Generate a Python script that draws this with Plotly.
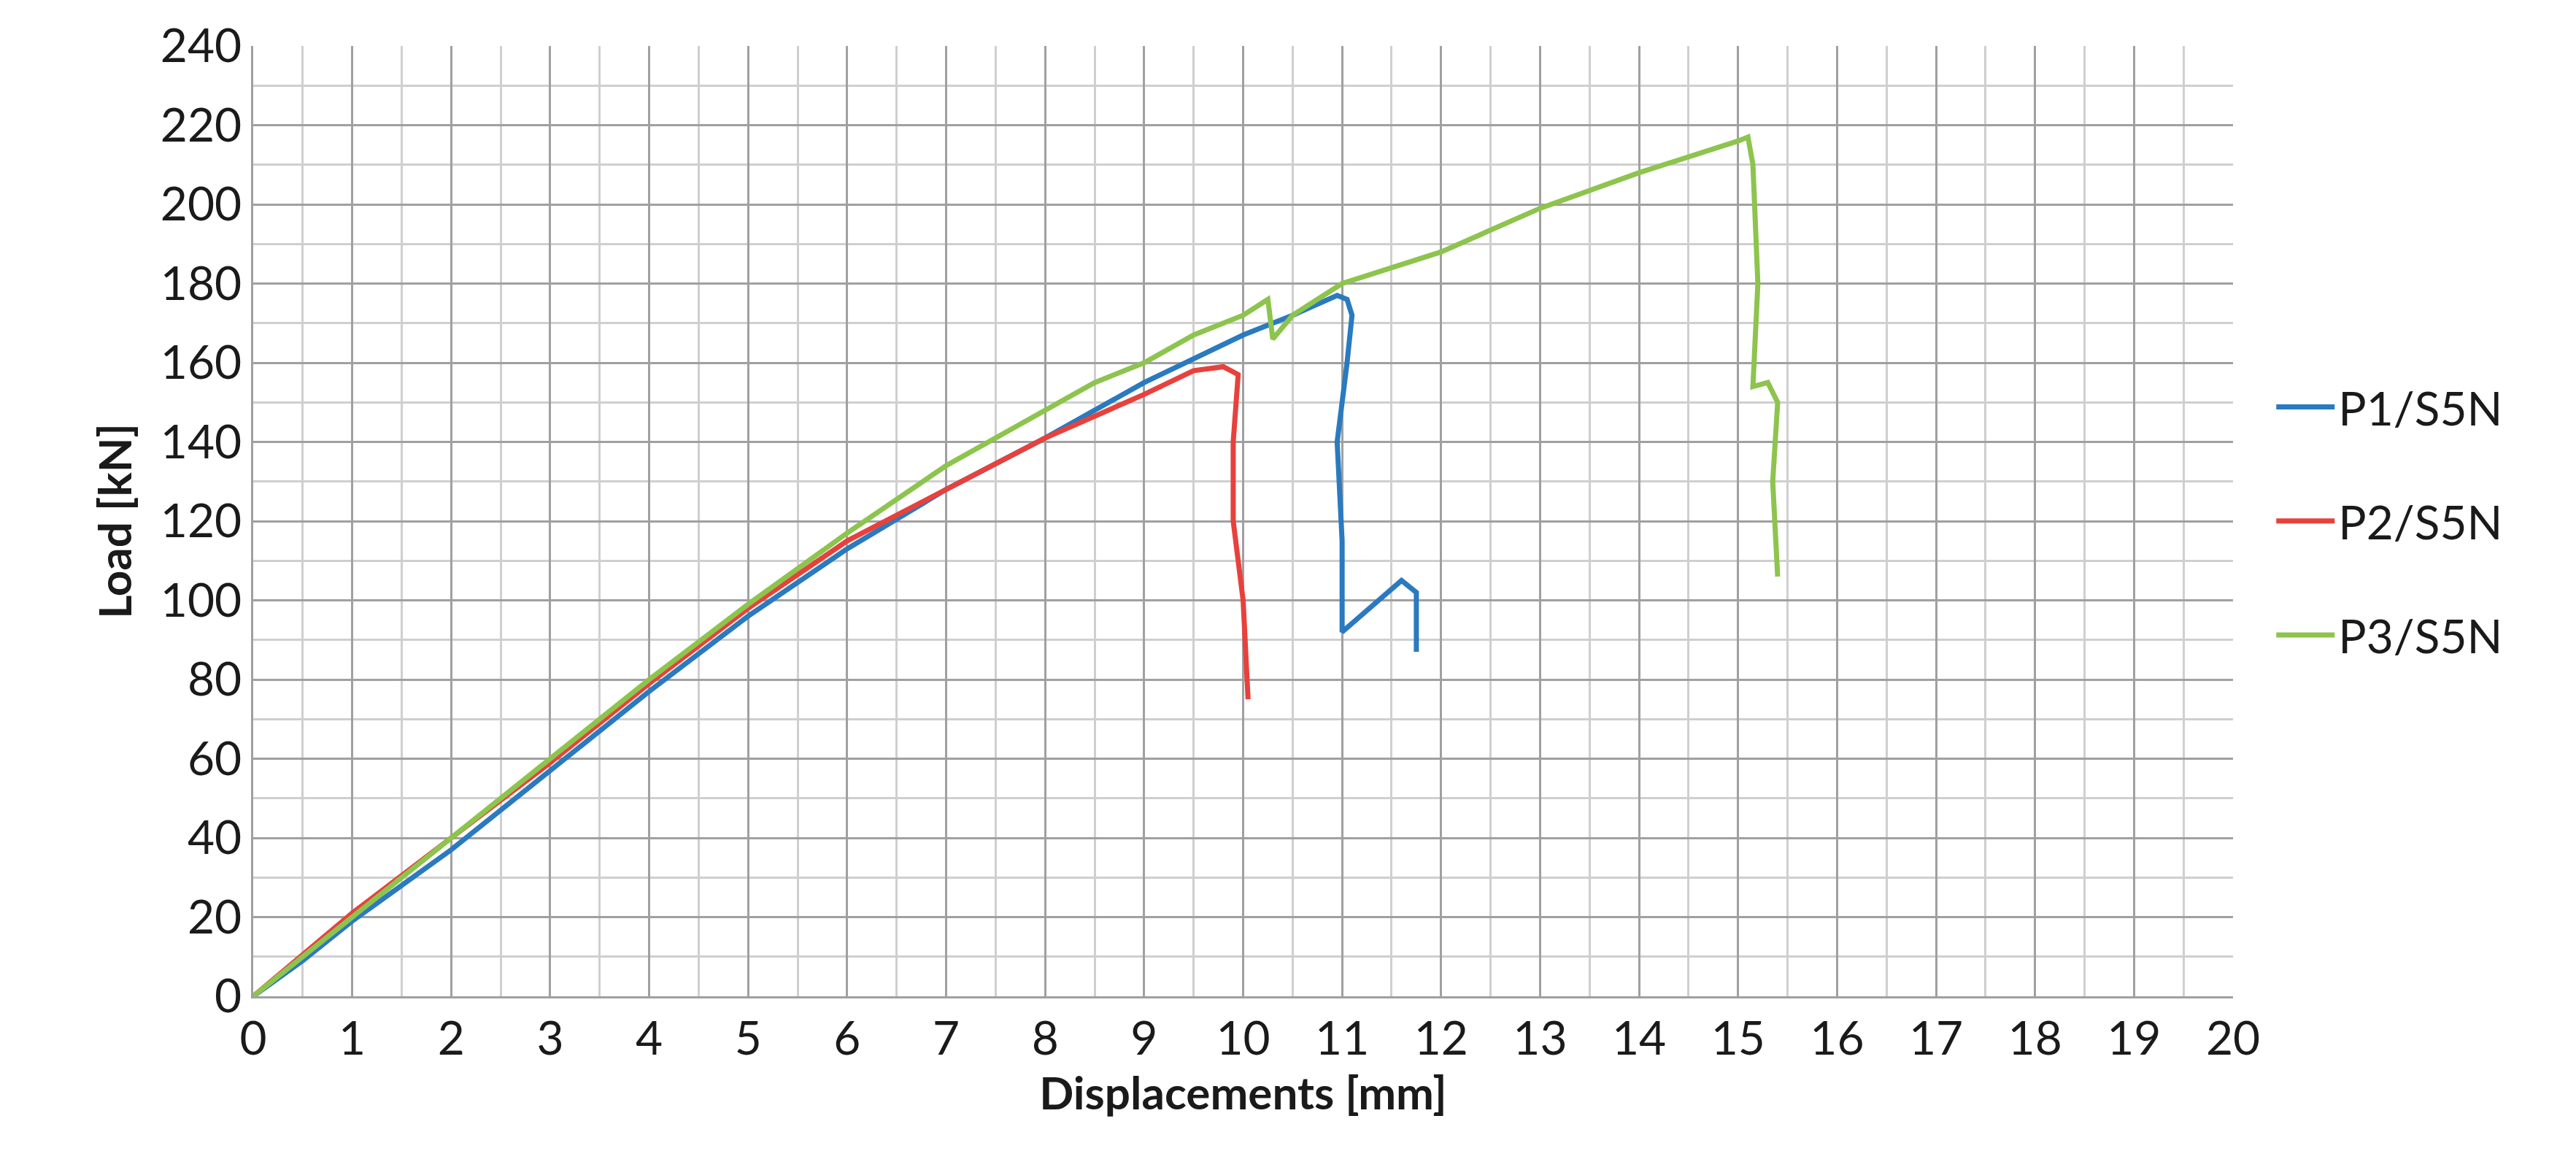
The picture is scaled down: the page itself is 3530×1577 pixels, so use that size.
import plotly.graph_objects as go

p1_x = [0, 0.5, 1, 2, 3, 4, 5, 6, 7, 8, 9, 10, 10.5, 10.95, 11.05, 11.1, 11.05, 10.95, 11.0, 11.0, 11.6, 11.75, 11.75]
p1_y = [0, 9, 19, 37, 57, 77, 96, 113, 128, 141, 155, 167, 172, 177, 176, 172, 160, 140, 115, 92, 105, 102, 87]
p2_x = [0, 1, 2, 3, 4, 5, 6, 7, 8, 9, 9.5, 9.8, 9.95, 9.9, 9.9, 10.0, 10.05]
p2_y = [0, 21, 40, 59, 79, 98, 115, 128, 141, 152, 158, 159, 157, 140, 120, 100, 75]
p3_x = [0, 1, 2, 3, 4, 5, 6, 7, 8, 8.5, 9, 9.5, 10, 10.25, 10.3, 10.5, 11, 12, 13, 14, 15, 15.1, 15.15, 15.2, 15.15, 15.3, 15.4, 15.35, 15.4]
p3_y = [0, 20, 40, 60, 80, 99, 117, 134, 148, 155, 160, 167, 172, 176, 166, 172, 180, 188, 199, 208, 216, 217, 210, 180, 154, 155, 150, 130, 106]

series = [("P1/S5N", p1_x, p1_y, "#2A7AC0"), ("P2/S5N", p2_x, p2_y, "#E8413C"), ("P3/S5N", p3_x, p3_y, "#8DC44E")]

fig = go.Figure()
for name, x, y, c in series:
    fig.add_trace(go.Scatter(x=x, y=y, name=name, legendgroup=name, mode="lines",
                             line=dict(color=c, width=7)))

font = "Lato"
fig.update_layout(
    width=3530, height=1577, plot_bgcolor="white", paper_bgcolor="white",
    margin=dict(l=339, r=478, t=55, b=220),
    font=dict(family=font, size=64, color="#1a1a1a"),
    legend=dict(x=1.02, y=0.5, yanchor="middle", xanchor="left", font=dict(size=64), tracegroupgap=70,
                itemwidth=80),
    xaxis=dict(range=[0, 20], dtick=1, showgrid=True, gridcolor="#a0a0a0", gridwidth=3,
               minor=dict(dtick=0.5, showgrid=True, gridcolor="#cfcfcf", gridwidth=3),
               zeroline=False, showline=True, linecolor="#a0a0a0", linewidth=3,
               ticks="", title=dict(text="<b>Displacements [mm]</b>", font=dict(size=62), standoff=10)),
    yaxis=dict(range=[0, 240], dtick=20, showgrid=True, gridcolor="#a0a0a0", gridwidth=3,
               minor=dict(dtick=10, showgrid=True, gridcolor="#cfcfcf", gridwidth=3),
               zeroline=False, showline=True, linecolor="#a0a0a0", linewidth=3,
               ticks="", title=dict(text="<b>Load [kN]</b>", font=dict(size=62), standoff=20)),
)
fig.write_html("out.html")
